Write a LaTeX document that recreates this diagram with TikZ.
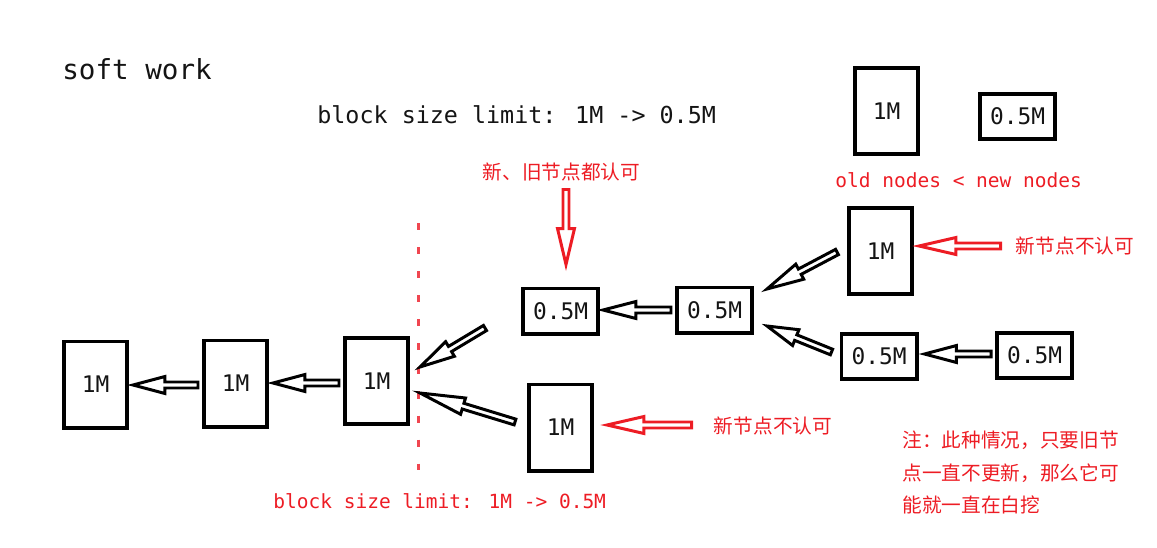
\documentclass[tikz,border=0pt]{standalone}
\usepackage{fontspec}
\newfontfamily\monofnt{DejaVu Sans Mono}
\newfontfamily\cjkfnt{Noto Sans CJK SC}
\usetikzlibrary{calc}
\definecolor{myred}{RGB}{237,28,36}
\definecolor{dashred}{RGB}{240,70,80}
\definecolor{ink}{RGB}{20,20,20}
\tikzset{
  onembox/.style={draw=black, line width=2pt, inner sep=0pt, minimum width=1.27cm, minimum height=1.73cm, text=ink, font=\monofnt\fontsize{13}{15}\selectfont},
  halfbox/.style={draw=black, line width=2pt, inner sep=0pt, minimum width=1.51cm, minimum height=0.91cm, text=ink, font=\monofnt\fontsize{13}{15}\selectfont},
  harrow/.style={line width=1.7pt, fill=white, line join=miter, miter limit=10},
  cjklbl/.style={inner sep=0pt, text=myred, font=\cjkfnt\fontsize{11.2}{13}\selectfont},
  redmono/.style={inner sep=0pt, text=myred, font=\monofnt\fontsize{11.1}{13}\selectfont},
  forkline/.style={dashred, line width=1.4pt, dash pattern=on 4pt off 9.7pt}
}
\newcommand\hollowarrow[4]{%
  \path let \p1=($(#3)-(#2)$) in \pgfextra{%
    \pgfmathsetmacro\HAangL{atan2(\y1,\x1)}\xdef\HAang{\HAangL}%
    \pgfmathsetmacro\HAlenL{veclen(\x1,\y1)/0.5690551}\xdef\HAlen{\HAlenL}};%
  \begin{scope}[shift={(#2)},rotate=\HAang]
    \draw[harrow,draw=#1] (0,-3) -- (\HAlen-#4,-3) -- (\HAlen-#4,-8.5) -- (\HAlen,0) -- (\HAlen-#4,8.5) -- (\HAlen-#4,3) -- (0,3) -- cycle;
  \end{scope}}
\begin{document}
\begin{tikzpicture}[x=0.02cm,y=-0.02cm]
\useasboundingbox (0,0) rectangle (1157,548);

% titles
\node[inner sep=0pt, anchor=base west, text=ink, font=\monofnt\fontsize{15.7}{18}\selectfont] (title) at (62,79) {soft work};
\node[inner sep=0pt, anchor=base west, text=ink, font=\monofnt\fontsize{13.3}{16}\selectfont] (limit) at (317,123) {block size limit: 1M -> 0.5M};

% boxes
\node[onembox] (A) at (886.5,111) {1M};
\node[halfbox] (B) at (1017.5,116.5) {0.5M};
\node[redmono, anchor=base west] (oldnew) at (835,187) {old nodes < new nodes};

\node[onembox] (C) at (880.5,251) {1M};
\node[halfbox] (D) at (560.5,311) {0.5M};
\node[halfbox] (E) at (714.5,310) {0.5M};
\node[halfbox] (F) at (879,356.5) {0.5M};
\node[halfbox] (G) at (1034.5,355.5) {0.5M};
\node[onembox] (H) at (560.5,427.5) {1M};
\node[onembox] (I) at (95.5,384.5) {1M};
\node[onembox] (J) at (235.5,383.5) {1M};
\node[onembox] (K) at (376.5,381) {1M};

% labels
\node[cjklbl] (lab1) at (561.5,172) {新、旧节点都认可};
\node[cjklbl] (lab2) at (1075,246) {新节点不认可};
\node[cjklbl] (lab3) at (773,426) {新节点不认可};
\node[redmono, anchor=base west] (limit2) at (273,508) {block size limit: 1M -> 0.5M};
\node[cjklbl, anchor=base west] (note1) at (902,447.5) {注：此种情况，只要旧节};
\node[cjklbl, anchor=base west] (note2) at (902,480) {点一直不更新，那么它可};
\node[cjklbl, anchor=base west] (note3) at (902,512.5) {能就一直在白挖};

% fork line
\coordinate (forktop) at ($(K.east)+(8.5,-158)$);
\coordinate (forkbot) at ($(K.east)+(8.5,89)$);
\draw[forkline] (forktop) -- (forkbot);

% arrow end points
\coordinate (eTail) at ($(E.west)+(-4,0)$);
\coordinate (dTip) at ($(D.east)+(3,-1)$);
\coordinate (jTail) at ($(J.west)+(-4,1.5)$);
\coordinate (iTip) at ($(I.east)+(4,0.5)$);
\coordinate (kTail) at ($(K.west)+(-4,2)$);
\coordinate (jTip) at ($(J.east)+(4,-0.5)$);
\coordinate (gTail) at ($(G.west)+(-4,-1.5)$);
\coordinate (fTip) at ($(F.east)+(6,-2.5)$);
\coordinate (cTail) at ($(C.west)+(-10,1)$);
\coordinate (r1Tip) at ($(E.east)+(13,-21)$);
\coordinate (fTail) at ($(F.west)+(-8,-4.5)$);
\coordinate (r2Tip) at ($(E.east)+(13,16)$);
\coordinate (dTail) at ($(D.west)+(-36,17)$);
\coordinate (l1Tip) at ($(K.east)+(10,-14)$);
\coordinate (hTail) at ($(H.west)+(-12,-5.5)$);
\coordinate (l2Tip) at ($(K.east)+(10,12)$);
\coordinate (rdTail) at ($(D.north)+(5.5,-97)$);
\coordinate (rdTip) at ($(D.north)+(5.5,-22)$);
\coordinate (rrTail) at ($(lab2.west)+(-15,0)$);
\coordinate (rrTip) at ($(C.east)+(5,-5)$);
\coordinate (rbTail) at ($(lab3.west)+(-22,-1)$);
\coordinate (rbTip) at ($(H.east)+(13,-2.5)$);

% black hollow arrows
\hollowarrow{black}{eTail}{dTip}{33}
\hollowarrow{black}{jTail}{iTip}{32}
\hollowarrow{black}{kTail}{jTip}{32}
\hollowarrow{black}{gTail}{fTip}{32}
\hollowarrow{black}{cTail}{r1Tip}{37}
\hollowarrow{black}{fTail}{r2Tip}{31}
\hollowarrow{black}{dTail}{l1Tip}{35}
\hollowarrow{black}{hTail}{l2Tip}{45}

% red hollow arrows
\hollowarrow{myred}{rdTail}{rdTip}{36}
\hollowarrow{myred}{rrTail}{rrTip}{37}
\hollowarrow{myred}{rbTail}{rbTip}{37}
\end{tikzpicture}
\end{document}
